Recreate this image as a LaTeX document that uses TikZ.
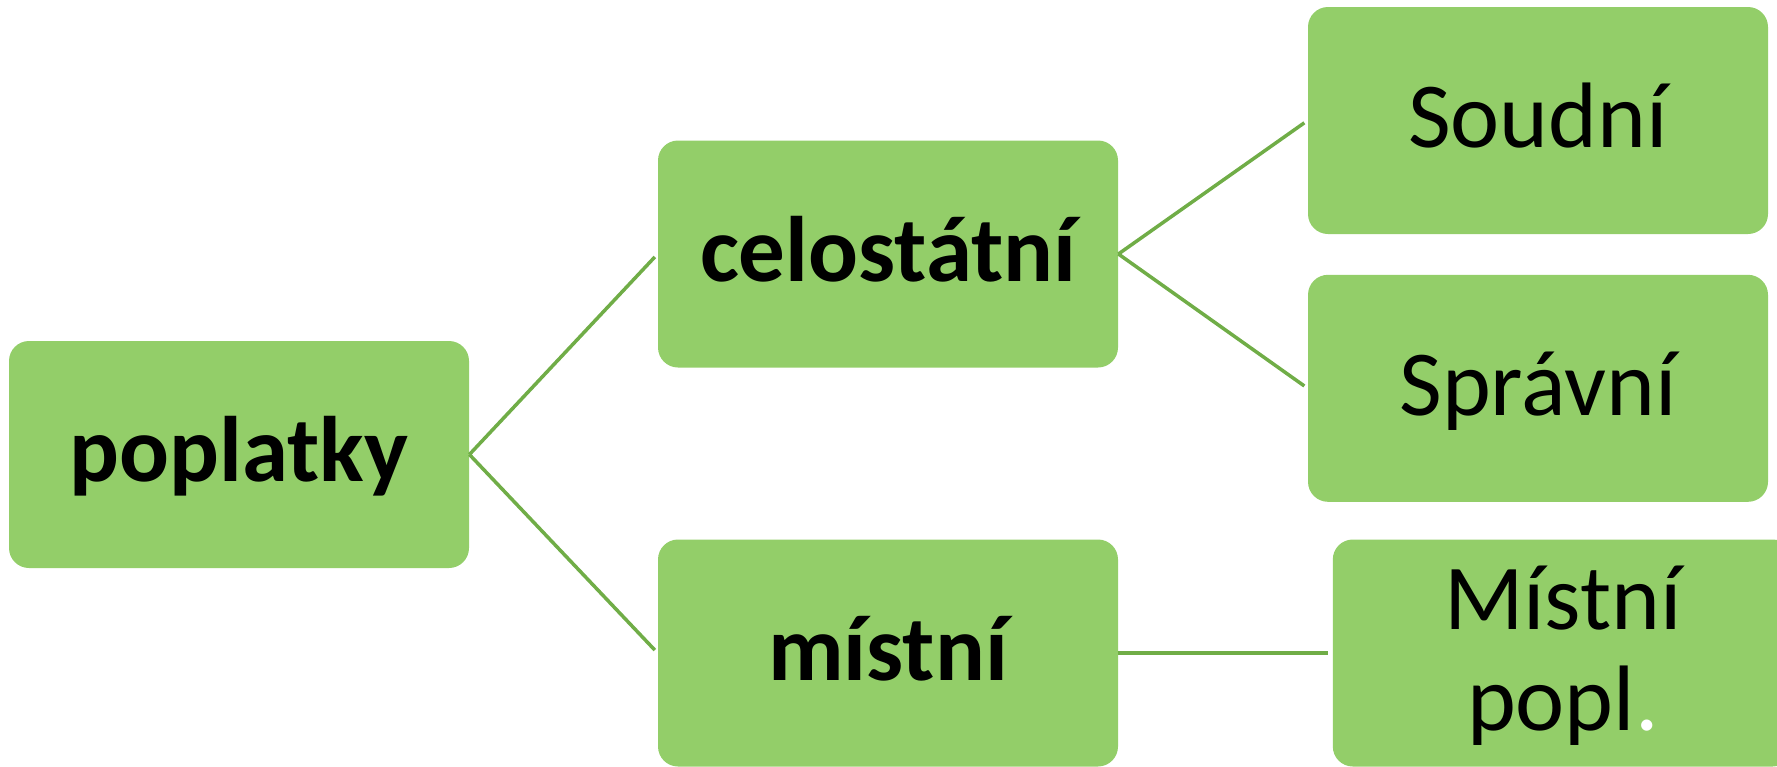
\documentclass[tikz,border=0pt]{standalone}
\usepackage{fontspec}
\setmainfont{Carlito}
\usetikzlibrary{positioning}
\definecolor{boxgreen}{RGB}{147,206,105}
\definecolor{linkgreen}{RGB}{112,173,71}
\tikzset{
  box/.style={
    fill=boxgreen, rounded corners=10pt,
    minimum width=230pt, minimum height=113.5pt,
    inner sep=0, text height=36pt, text depth=9pt,
    font=\fontsize{46.5pt}{50.5pt}\selectfont
  },
  headbox/.style={box, font=\fontsize{46.5pt}{50.5pt}\selectfont\bfseries},
  link/.style={draw=linkgreen, line width=1.75pt, shorten >=2pt}
}

\begin{document}
\begin{tikzpicture}[x=0.5pt,y=-0.5pt]
      \useasboundingbox (0,0) rectangle (1777,766);
      \node[headbox] (poplatky) at (239,454.5) {poplatky};
      \node[headbox] (celostatni) at (888,254) {celostátní};
      \node[headbox] (mistni) at (888,653) {místní};
      \node[box] (soudni) at (1538,120.5) {Soudní};
      \node[box, below=20pt of soudni] (spravni) {Správní};
      \node[box, right=107pt of mistni, align=center, text height=86pt] (mistpopl) {Místní\\popl\textcolor{white}{.}};
      \draw[link] (poplatky.east) -- (celostatni.west);
      \draw[link] (poplatky.east) -- (mistni.west);
      \draw[link] (celostatni.east) -- (soudni.west);
      \draw[link] (celostatni.east) -- (spravni.west);
      \draw[link] (mistni.east) -- (mistpopl.west);
    \end{tikzpicture}
\end{document}
